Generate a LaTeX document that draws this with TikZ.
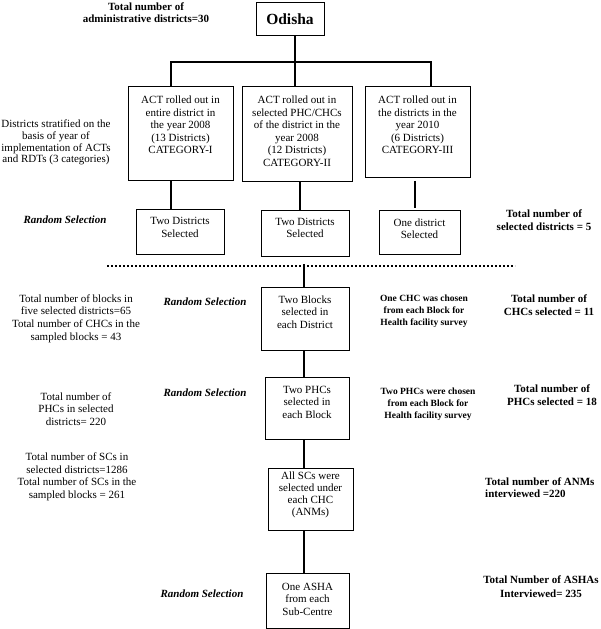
\documentclass[tikz,border=0pt]{standalone}
\usepackage{fontspec}
\setmainfont{Liberation Serif}
\begin{document}
\begin{tikzpicture}[x=1pt,y=-1pt,
  box/.style={draw, line width=0.8pt, inner sep=0pt, anchor=north west},
  txt/.style={font=\fontsize{11}{12.5}\selectfont, align=center, inner sep=0pt},
  lbl/.style={font=\fontsize{11}{12.8}\selectfont\bfseries, align=center, inner sep=0pt},
  note/.style={font=\fontsize{9.5}{12}\selectfont\bfseries, align=center, inner sep=0pt},
  rs/.style={font=\fontsize{11}{12.5}\selectfont\bfseries\itshape, inner sep=0pt},
  conn/.style={line width=2.2pt},
  thinconn/.style={line width=1.4pt},
  dotline/.style={line width=2pt, dash pattern=on 2pt off 2pt}]
\useasboundingbox (0,0) rectangle (600,629);

% top
\node[lbl, font=\fontsize{11}{11.5}\selectfont\bfseries] (totadm) at (146,12.5) {Total number of\\administrative districts=30};
\node[box, minimum width=68pt, minimum height=33pt] (odisha) at (256,2) {};
\node[inner sep=0pt, font=\fontsize{15.5}{17}\selectfont\bfseries] (odishat) at (290,19) {Odisha};

% categories
\node[box, minimum width=105pt, minimum height=94pt] (c1) at (128,86) {};
\node[box, minimum width=110pt, minimum height=95pt] (c2) at (242,86) {};
\node[box, minimum width=105pt, minimum height=91pt] (c3) at (365,86) {};
\node[txt] (c1t) at (180.5,125) {ACT rolled out in\\entire district in\\the year 2008\\(13 Districts)\\CATEGORY-I};
\node[txt] (c2t) at (297,131) {ACT rolled out in\\selected PHC/CHCs\\of the district in the\\year 2008\\(12 Districts)\\CATEGORY-II};
\node[txt] (c3t) at (417.5,125) {ACT rolled out in\\the districts in the\\year 2010\\(6 Districts)\\CATEGORY-III};
\node[txt, font=\fontsize{11}{11.8}\selectfont] (strat) at (56,142.5) {Districts stratified on the\\basis of year of\\implementation of ACTs\\and RDTs (3 categories)};

% selected districts
\node[box, minimum width=88pt, minimum height=45pt] (s1) at (136,209) {};
\node[box, minimum width=88pt, minimum height=46pt] (s2) at (261,210) {};
\node[box, minimum width=81pt, minimum height=44pt] (s3) at (379,210) {};
\node[txt] (s1t) at (180,227.5) {Two Districts\\Selected};
\node[txt] (s2t) at (305,228) {Two Districts\\Selected};
\node[txt] (s3t) at (419.5,228.5) {One district\\Selected};
\node[rs] (rs1) at (65,220) {Random Selection};
\node[lbl] (totsel) at (544,220.5) {Total number of\\selected districts = 5};

% lower chain
\node[box, minimum width=88pt, minimum height=63pt] (blk) at (261,287) {};
\node[txt] (blkt) at (305,312) {Two Blocks\\selected in\\each District};
\node[box, minimum width=84pt, minimum height=62pt] (phc) at (265,377) {};
\node[txt] (phct) at (307,402) {Two PHCs\\selected in\\each Block};
\node[box, minimum width=85pt, minimum height=62pt] (sc) at (268,468) {};
\node[txt, font=\fontsize{11}{12}\selectfont] (sct) at (310.5,495) {All SCs were\\selected under\\each CHC\\(ANMs)};
\node[box, minimum width=83pt, minimum height=55pt] (asha) at (266,573) {};
\node[txt] (ashat) at (307.5,599) {One ASHA\\from each\\Sub-Centre};

% left texts
\node[txt, font=\fontsize{11}{12.8}\selectfont] (lblk) at (76,318.5) {Total number of blocks in\\five selected districts=65\\Total number of CHCs in the\\sampled blocks = 43};
\node[txt] (lphc) at (76,409) {Total number of\\PHCs in selected\\districts= 220};
\node[txt] (lsc) at (77,477) {Total number of SCs in\\selected districts=1286\\Total number of SCs in the\\sampled blocks = 261};
\node[rs] (rs2) at (205,302) {Random Selection};
\node[rs] (rs3) at (205,393) {Random Selection};
\node[rs] (rs4) at (202,594) {Random Selection};

% right texts
\node[note] (nchc) at (424,311) {One CHC was chosen\\from each Block for\\Health facility survey};
\node[note] (nphc) at (428,404) {Two PHCs were chosen\\from each Block for\\Health facility survey};
\node[lbl] (tchc) at (549,305.5) {Total number of\\CHCs selected = 11};
\node[lbl] (tphc) at (552,395.5) {Total number of\\PHCs selected = 18};
\node[lbl, align=left, anchor=west, font=\fontsize{11}{11.5}\selectfont\bfseries] (tanm) at (485,487.5) {Total number of ANMs\\interviewed =220};
\node[lbl, font=\fontsize{11}{14}\selectfont\bfseries] (tasha) at (541,587) {Total Number of ASHAs\\Interviewed= 235};

% connectors
\coordinate (jl) at (171,62);
\coordinate (jm) at (295,62);
\coordinate (jr) at (431,62);
\coordinate (x2) at (300,0);
\coordinate (x3) at (415,0);
\draw[conn] (odisha.south -| jm) -- (jm);
\draw[conn] (c1.north -| jl) -- (jl) -- (jr) -- (c3.north -| jr);
\draw[conn] (jm) -- (c2.north -| jm);
\draw[conn] (c1.south -| jl) -- (s1.north -| jl);
\draw[conn] (c2.south -| x2) -- (s2.north -| x2);
\draw[conn] ([yshift=-3pt]c3.south -| x3) -- ([yshift=2pt]s3.north -| x3);

\coordinate (dl) at (107,266);
\coordinate (dr) at (515,266);
\draw[dotline] (dl) -- (dr);
\coordinate (x4) at (304,264);
\draw[conn] (x4) -- (blk.north -| x4);
\draw[conn] (blk.south -| x4) -- (phc.north -| x4);
\draw[conn] (phc.south -| x4) -- (sc.north -| x4);
\draw[thinconn] (sc.south -| x4) -- (asha.north -| x4);
\end{tikzpicture}
\end{document}
